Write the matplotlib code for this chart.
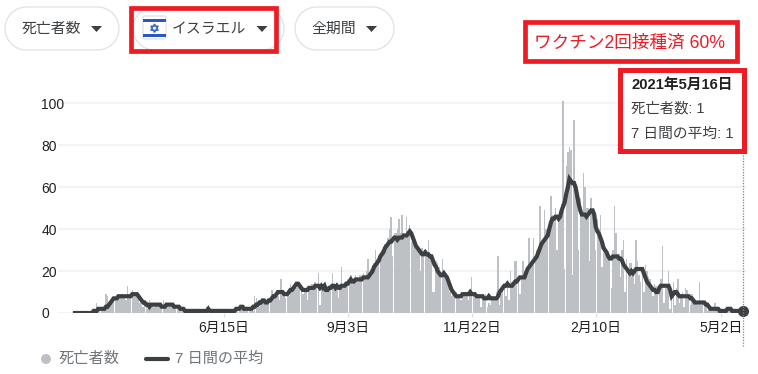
import numpy as np
import pandas as pd
import matplotlib.pyplot as plt
from matplotlib.patches import Rectangle, Polygon, Circle, FancyBboxPatch

plt.rcParams['font.family'] = ['Liberation Sans', 'Noto Sans CJK JP', 'DejaVu Sans']

# daily values, last day is 2021-05-16
deaths = [
    0, 0, 0, 0, 0, 0, 0, 0, 0, 0,
    0, 0, 1, 0, 5, 1, 1, 2, 2, 3,
    9, 8, 4, 5, 6, 7, 6, 8, 8, 7,
    9, 8, 7, 6, 13, 7, 8, 11, 10, 8,
    9, 7, 5, 4, 3, 5, 3, 2, 6, 5,
    4, 3, 5, 4, 4, 5, 3, 6, 3, 5,
    3, 5, 4, 5, 3, 4, 2, 3, 3, 1,
    2, 1, 1, 1, 0, 1, 1, 2, 1, 1,
    1, 1, 1, 2, 1, 3, 4, 1, 1, 1,
    1, 0, 1, 1, 1, 0, 1, 1, 1, 1,
    0, 1, 1, 0, 2, 3, 1, 4, 3, 4,
    2, 3, 0, 2, 3, 1, 8, 7, 4, 3,
    5, 7, 6, 4, 5, 6, 7, 11, 8, 9,
    11, 8, 6, 16, 10, 8, 7, 9, 8, 14,
    11, 13, 14, 12, 15, 13, 12, 9, 11, 10,
    6, 12, 13, 14, 13, 15, 14, 19, 4, 13,
    12, 14, 11, 10, 13, 12, 19, 12, 11, 13,
    7, 14, 22, 12, 14, 13, 16, 17, 18, 14,
    16, 18, 17, 15, 18, 17, 19, 16, 20, 26,
    18, 21, 23, 24, 30, 26, 27, 29, 30, 31,
    33, 33, 36, 40, 46, 27, 38, 38, 40, 45,
    38, 47, 38, 36, 46, 39, 42, 34, 36, 35,
    34, 32, 31, 20, 31, 29, 30, 28, 35, 28,
    26, 10, 10, 25, 24, 22, 19, 26, 18, 18,
    15, 17, 10, 8, 10, 8, 10, 7, 9, 6,
    9, 8, 10, 9, 6, 8, 17, 9, 7, 8,
    9, 7, 3, 8, 6, 9, 3, 5, 4, 8,
    6, 6, 10, 27, 4, 9, 13, 12, 8, 14,
    6, 20, 15, 13, 25, 25, 16, 9, 17, 25,
    20, 18, 20, 36, 22, 24, 36, 26, 30, 30,
    51, 32, 33, 49, 40, 36, 44, 56, 47, 45,
    50, 30, 44, 48, 52, 101, 21, 70, 77, 79,
    78, 18, 92, 60, 55, 30, 55, 48, 67, 60,
    50, 50, 25, 55, 48, 44, 30, 45, 40, 47,
    22, 33, 32, 30, 28, 27, 12, 30, 51, 38,
    28, 28, 17, 30, 35, 10, 26, 20, 24, 24,
    20, 14, 35, 25, 18, 15, 19, 10, 23, 20,
    17, 16, 14, 8, 14, 13, 12, 11, 16, 32,
    5, 12, 13, 20, 2, 9, 15, 4, 12, 16,
    5, 9, 10, 3, 12, 11, 8, 4, 9, 7,
    6, 5, 4, 15, 4, 6, 3, 5, 1, 2,
    2, 1, 1, 5, 2, 1, 0, 1, 1, 2,
    1, 2, 3, 1, 1, 0, 1, 1, 2, 1,
    1, 1,
]

avg_7d = [
    0, 0, 0, 0, 0, 0, 0, 0, 0, 0,
    0, 0, 1, 1, 1, 2, 2, 2, 2, 2,
    3, 3, 4, 5, 6, 7, 7, 7, 8, 8,
    8, 8, 8, 8, 8, 8, 8, 9, 9, 9,
    9, 8, 7, 6, 5, 5, 4, 4, 3, 4,
    4, 4, 4, 4, 4, 4, 3, 3, 3, 4,
    4, 4, 4, 4, 3, 3, 3, 3, 2, 2,
    2, 1, 1, 1, 1, 1, 1, 1, 1, 1,
    1, 1, 1, 1, 1, 1, 2, 1, 1, 1,
    1, 1, 1, 1, 1, 1, 1, 1, 1, 1,
    0, 1, 1, 1, 2, 2, 2, 3, 3, 2,
    2, 2, 2, 2, 2, 3, 3, 4, 4, 5,
    5, 6, 6, 5, 5, 6, 6, 7, 8, 8,
    9, 10, 10, 10, 10, 9, 9, 9, 10, 11,
    11, 12, 13, 14, 14, 13, 12, 11, 11, 11,
    11, 12, 12, 12, 12, 13, 13, 13, 12, 13,
    12, 13, 11, 11, 12, 12, 13, 13, 12, 13,
    12, 12, 13, 13, 13, 14, 14, 15, 16, 15,
    15, 16, 16, 16, 16, 16, 17, 17, 17, 17,
    18, 19, 20, 22, 23, 24, 25, 27, 28, 29,
    31, 32, 33, 34, 34, 35, 36, 36, 35, 36,
    36, 36, 37, 37, 37, 38, 39, 38, 36, 34,
    32, 31, 30, 29, 28, 28, 29, 28, 28, 27,
    27, 25, 23, 22, 20, 19, 18, 18, 19, 18,
    17, 15, 13, 11, 10, 9, 8, 8, 8, 8,
    9, 9, 9, 9, 9, 10, 9, 9, 9, 8,
    8, 8, 8, 8, 7, 7, 7, 8, 7, 7,
    7, 7, 7, 8, 10, 11, 12, 13, 13, 14,
    13, 13, 13, 14, 15, 15, 16, 17, 17, 17,
    17, 19, 21, 22, 23, 24, 25, 26, 27, 29,
    31, 33, 34, 35, 36, 37, 40, 43, 45, 45,
    46, 46, 45, 46, 49, 51, 53, 57, 60, 64,
    63, 62, 62, 60, 56, 52, 49, 47, 47, 47,
    46, 47, 48, 49, 49, 47, 41, 39, 38, 36,
    34, 31, 30, 29, 27, 26, 26, 27, 27, 27,
    27, 26, 26, 25, 23, 22, 21, 20, 19, 20,
    19, 20, 21, 21, 21, 21, 21, 19, 17, 15,
    14, 13, 12, 11, 11, 10, 10, 12, 13, 13,
    13, 13, 13, 13, 11, 8, 9, 10, 10, 9,
    8, 8, 8, 8, 8, 8, 8, 7, 7, 6,
    5, 5, 5, 5, 5, 5, 5, 4, 4, 3,
    2, 2, 2, 2, 2, 2, 1, 1, 1, 1,
    1, 2, 2, 2, 1, 1, 1, 1, 1, 1,
    1, 1,
]

tick_dates = ['2020-06-15', '2020-09-03', '2020-11-22', '2021-02-10', '2021-05-02']
tick_labels = ['6月15日', '9月3日', '11月22日', '2月10日', '5月2日']
y_ticks = [0, 20, 40, 60, 80, 100]

dates = pd.date_range(end='2021-05-16', periods=len(deaths))

W, H = 758, 374
fig = plt.figure(figsize=(W / 100, H / 100), dpi=100, facecolor='white')

# chart area, placed in pixels
left, right, y_base, y_top = 58, 746, 313, 92
ax = fig.add_axes([left / W, 1 - y_base / H, (right - left) / W, (y_base - y_top) / H])
px_day = 1.55
end = dates[-1]
ax.set_xlim(end - pd.Timedelta(days=(743 - left) / px_day), end + pd.Timedelta(days=(right - 743) / px_day))
ax.set_ylim(0, (y_base - y_top) / 2.095)

ax.bar(dates, deaths, width=0.94, color='#bdc1c6', linewidth=0, zorder=2)
ax.plot(dates, avg_7d, color='#3c4043', lw=3, solid_joinstyle='miter', zorder=3)
ax.plot([end], [avg_7d[-1]], 'o', color='#3c4043', ms=8, mew=0, zorder=4, clip_on=False)

ax.set_yticks(y_ticks)
ax.set_xticks(pd.to_datetime(tick_dates))
ax.set_xticklabels(tick_labels)
ax.grid(axis='y', color='#f1f3f4', lw=1.5, zorder=0)
ax.set_axisbelow(True)
for s in ax.spines.values():
    s.set_visible(False)
ax.tick_params(axis='y', length=0, pad=12, labelsize=10, labelcolor='#202124')
ax.tick_params(axis='x', length=3, width=0.8, color='#dadce0', pad=3, labelsize=10, labelcolor='#202124')
for lab in ax.get_yticklabels():
    lab.set_ha('left')

# everything else is drawn in pixel coordinates on top
ov = fig.add_axes([0, 0, 1, 1], zorder=5)
ov.set_xlim(0, W)
ov.set_ylim(H, 0)
ov.axis('off')
ov.patch.set_alpha(0)

# dotted line of the hovered day
ov.plot([743, 743], [155, 347], color='#80868b', lw=0.9, ls=(0, (1, 1.2)), zorder=1)

def chip(x0, x1, y0=7, y1=50):
    r = (y1 - y0) / 2
    t = np.linspace(-np.pi / 2, np.pi / 2, 30)
    right_x = x1 - r + r * np.cos(t)
    left_x = x0 + r - r * np.cos(t[::-1])
    ys = (y0 + y1) / 2 + r * np.sin(t)
    pts = np.column_stack([np.r_[right_x, left_x], np.r_[ys, ys[::-1]]])
    ov.add_patch(Polygon(pts, closed=True, fc='white', ec='#dfe1e5', lw=0.9, zorder=1))

def arrow(x, y=26):
    ov.add_patch(Polygon([(x - 5.5, y), (x + 5.5, y), (x, y + 6)], fc='#3c4043', ec='none', zorder=2))

chip(5, 119)
chip(133, 284)
chip(295, 394)
arrow(96.5)
arrow(262)
arrow(371.5)
chip_fs = 10.7
ov.text(22, 28.5, '死亡者数', fontsize=chip_fs, color='#3c4043', va='center')
ov.text(172, 28.5, 'イスラエル', fontsize=chip_fs, color='#3c4043', va='center')
ov.text(311, 28.5, '全期間', fontsize=chip_fs, color='#3c4043', va='center')

# flag
ov.add_patch(FancyBboxPatch((144, 17), 21, 21, boxstyle='round,pad=1,rounding_size=2', fc='white', ec='#dadce0', lw=0.8, zorder=2))
ov.add_patch(Rectangle((143, 19), 23, 3, fc='#2b57c4', ec='none', zorder=3))
ov.add_patch(Rectangle((143, 34), 23, 3, fc='#2b57c4', ec='none', zorder=3))
ov.add_patch(Polygon([(154.5, 24), (158.2, 30.3), (150.8, 30.3)], fc='none', ec='#3f6ccb', lw=1, zorder=3))
ov.add_patch(Polygon([(154.5, 32.4), (158.2, 26.1), (150.8, 26.1)], fc='none', ec='#3f6ccb', lw=1, zorder=3))

# red frames
red = '#ed1c24'
ov.add_patch(Rectangle((130.5, 8), 145, 43, fc='none', ec=red, lw=3.4, zorder=4))
ov.add_patch(Rectangle((524.5, 22), 212, 39, fc='none', ec=red, lw=3.4, zorder=4))
ov.add_patch(Rectangle((619.5, 69.5), 124, 81, fc='white', ec=red, lw=3.6, zorder=4))

ov.text(534, 43.5, 'ワクチン2回接種済 60%', fontsize=12.7, color=red, va='center', zorder=5)
ov.text(631, 85, '2021年5月16日', fontsize=10.6, color='#202124', fontweight='bold', va='center', zorder=5)
ov.text(631, 108, '死亡者数: 1', fontsize=10.4, color='#3c4043', va='center', zorder=5)
ov.text(631, 134, '7 日間の平均: 1', fontsize=10.6, color='#3c4043', va='center', zorder=5)

# legend
ov.add_patch(Circle((46, 359), 5, fc='#bdc1c6', ec='none'))
ov.text(59, 359, '死亡者数', fontsize=11, color='#70757a', va='center')
ov.plot([146, 168], [359, 359], color='#3c4043', lw=3, solid_capstyle='round')
ov.text(175, 359, '7 日間の平均', fontsize=10.9, color='#70757a', va='center')

fig.savefig('out.png', dpi=100)
